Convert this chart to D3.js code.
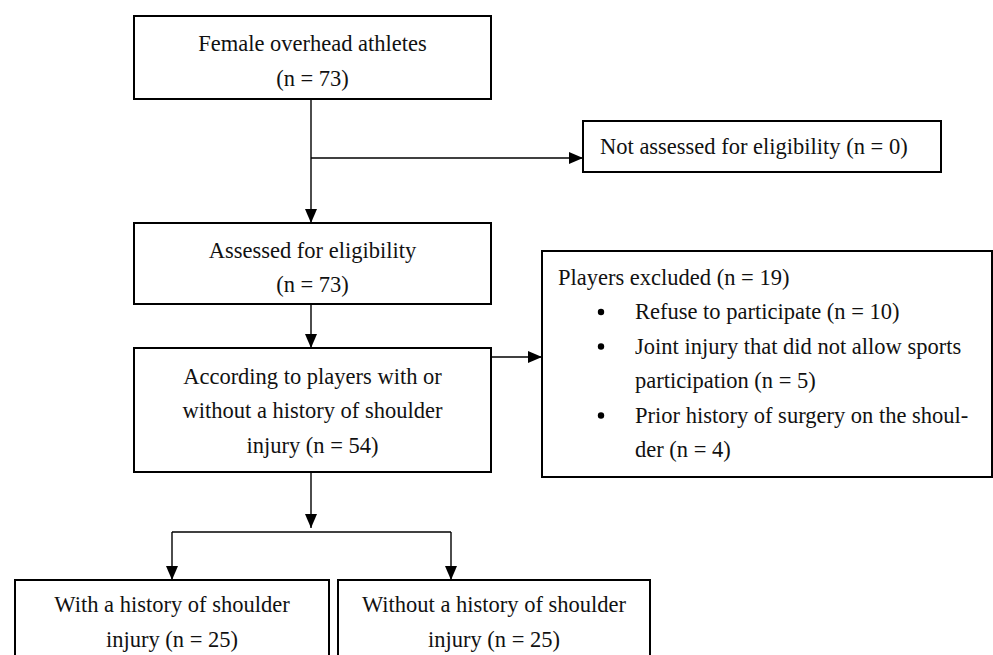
<!DOCTYPE html>
<html>
<head>
<meta charset="utf-8">
<script src="https://cdn.jsdelivr.net/npm/d3@7"></script>
<style>
  body { margin: 0; background: #fff; }
  svg text { font-family: "Palatino Linotype", "Book Antiqua", Palatino, "Liberation Serif", serif; fill: #111; }
</style>
</head>
<body>
<script>
// text of each box, one entry per printed line
var sourceLines = ["Female overhead athletes", "(n = 73)"];
var notAssessedLines = ["Not assessed for eligibility (n = 0)"];
var assessedLines = ["Assessed for eligibility", "(n = 73)"];
var groupingLines = ["According to players with or", "without a history of shoulder", "injury (n = 54)"];
var excludedTitle = "Players excluded (n = 19)";
var excludedItems = [
  ["Refuse to participate (n = 10)"],
  ["Joint injury that did not allow sports", "participation (n = 5)"],
  ["Prior history of surgery on the shoul-", "der (n = 4)"]
];
var withLines = ["With a history of shoulder", "injury (n = 25)"];
var withoutLines = ["Without a history of shoulder", "injury (n = 25)"];

var W = 993, H = 655;
var fontSize = 22.5, lineH = 34.5;

var svg = d3.select("body").append("svg")
    .attr("width", W)
    .attr("height", H);

svg.append("defs").append("marker")
    .attr("id", "arrow")
    .attr("markerUnits", "userSpaceOnUse")
    .attr("markerWidth", 14)
    .attr("markerHeight", 12)
    .attr("refX", 14)
    .attr("refY", 6)
    .attr("orient", "auto")
  .append("path")
    .attr("d", "M0,0 L14,6 L0,12 Z")
    .attr("fill", "#000");

// box geometry
var box1 = {x: 134, y: 16, w: 357, h: 83};
var boxNA = {x: 583, y: 121, w: 358, h: 51};
var box2 = {x: 134, y: 223, w: 357, h: 81};
var box3 = {x: 134, y: 348, w: 357, h: 124};
var boxEx = {x: 542, y: 251, w: 450, h: 226};
var boxL = {x: 15, y: 580, w: 314, h: 90};
var boxR = {x: 338, y: 580, w: 312, h: 90};

function drawBox(b) {
  svg.append("rect")
      .attr("x", b.x).attr("y", b.y)
      .attr("width", b.w).attr("height", b.h)
      .attr("fill", "#fff")
      .attr("stroke", "#000")
      .attr("stroke-width", 2);
}

function centeredText(lines, cx, firstBaseline) {
  svg.append("g").selectAll("text")
    .data(lines)
    .enter().append("text")
      .attr("x", cx)
      .attr("y", function(d, i) { return firstBaseline + i * lineH; })
      .attr("text-anchor", "middle")
      .style("font-size", fontSize + "px")
      .text(function(d) { return d; });
}

function connector(points, arrow) {
  var p = svg.append("path")
      .attr("d", d3.line()(points))
      .attr("fill", "none")
      .attr("stroke", "#000")
      .attr("stroke-width", 1.4);
  if (arrow) p.attr("marker-end", "url(#arrow)");
}

[box1, boxNA, box2, box3, boxEx, boxL, boxR].forEach(drawBox);

var midX = 311;

// connectors
connector([[midX, box1.y + box1.h], [midX, box2.y]], true);
connector([[midX, 158], [boxNA.x, 158]], true);
connector([[midX, box2.y + box2.h], [midX, box3.y]], true);
connector([[box3.x + box3.w, 357], [boxEx.x, 357]], true);
connector([[midX, box3.y + box3.h], [midX, 528]], true);
connector([[172, 532], [451, 532]], false);
connector([[172, 532], [172, boxL.y]], true);
connector([[451, 532], [451, boxR.y]], true);

// box texts
centeredText(sourceLines, box1.x + box1.w / 2, 51);
centeredText(assessedLines, box2.x + box2.w / 2, 257.5);
centeredText(groupingLines, box3.x + box3.w / 2, 383.5);
centeredText(withLines, boxL.x + boxL.w / 2, 612);
centeredText(withoutLines, boxR.x + boxR.w / 2, 612);

svg.append("text")
    .attr("x", 600)
    .attr("y", 154)
    .style("font-size", fontSize + "px")
    .text(notAssessedLines[0]);

// excluded list
svg.append("text")
    .attr("x", 558)
    .attr("y", 284.5)
    .style("font-size", fontSize + "px")
    .text(excludedTitle);

var row = 1;
excludedItems.forEach(function(item) {
  var base = 284.5 + row * lineH;
  svg.append("circle")
      .attr("cx", 601)
      .attr("cy", base - 7)
      .attr("r", 3.2)
      .attr("fill", "#000");
  item.forEach(function(line, j) {
    svg.append("text")
        .attr("x", 635)
        .attr("y", base + j * lineH)
        .style("font-size", fontSize + "px")
        .text(line);
  });
  row += item.length;
});
</script>
</body>
</html>
